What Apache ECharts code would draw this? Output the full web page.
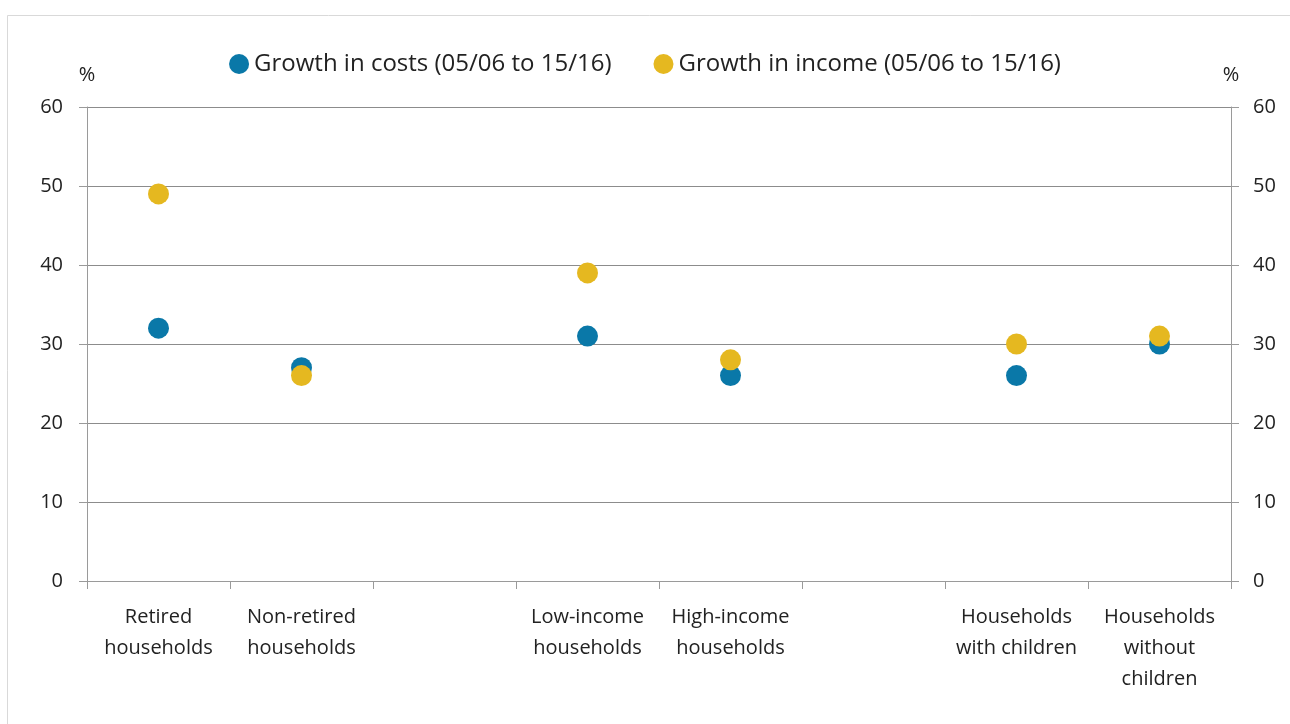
<!DOCTYPE html>
<html>
<head>
<meta charset="utf-8">
<script src="https://cdn.jsdelivr.net/npm/echarts@6/dist/echarts.min.js"></script>
<style>
html,body{margin:0;padding:0;background:#fff;}
#c{width:1290px;height:724px;}
</style>
</head>
<body>
<div id="c"></div>
<script>
var categories = ['Retired\nhouseholds', 'Non-retired\nhouseholds', '', 'Low-income\nhouseholds', 'High-income\nhouseholds', '', 'Households\nwith children', 'Households\nwithout\nchildren'];
var costs = [32, 27, null, 31, 26, null, 26, 30];
var income = [49, 26, null, 39, 28, null, 30, 31];
var yTicks = [0, 10, 20, 30, 40, 50, 60];
var seriesNames = ['Growth in costs (05/06 to 15/16)', 'Growth in income (05/06 to 15/16)'];

var FONT = '"Open Sans", "Liberation Sans", sans-serif';
var chart = echarts.init(document.getElementById('c'), null, {renderer: 'canvas'});
var yAxisBase = function (pos) {
  return {
    type: 'value', position: pos, min: yTicks[0], max: yTicks[yTicks.length - 1], interval: 10,
    name: '%', nameLocation: 'end', nameGap: 22,
    nameTextStyle: {color: '#222', fontSize: 20, fontFamily: FONT, align: 'center', verticalAlign: 'bottom'},
    axisLine: {show: true, lineStyle: {color: '#9a9a9a', width: 1}},
    axisTick: {show: true, length: 8, lineStyle: {color: '#9a9a9a'}},
    axisLabel: {color: '#222', fontSize: 20, fontFamily: FONT, margin: pos === 'left' ? 24 : 22},
    splitLine: {show: pos === 'left', lineStyle: {color: '#8c8c8c', width: 1}}
  };
};
chart.setOption({
  animation: false,
  backgroundColor: '#fff',
  graphic: [{type: 'rect', shape: {x: 7.5, y: 15.5, width: 1290, height: 720}, style: {fill: 'none', stroke: '#d9d9d9', lineWidth: 1}, silent: true}],
  legend: {
    top: 47, left: 'center', itemGap: 42, itemWidth: 20, itemHeight: 20,
    icon: 'circle',
    textStyle: {color: '#222', fontSize: 24, fontFamily: FONT, padding: [0, 0, 0, 0]},
    data: seriesNames
  },
  grid: {left: 87, right: 59, top: 107, bottom: 143, containLabel: false},
  xAxis: {
    type: 'category', data: categories, boundaryGap: true,
    axisLine: {show: true, lineStyle: {color: '#9a9a9a'}},
    axisTick: {show: true, length: 8, alignWithLabel: false, interval: 0, lineStyle: {color: '#9a9a9a'}},
    axisLabel: {interval: 0, color: '#222', fontSize: 20, fontFamily: FONT, lineHeight: 31, margin: 21}
  },
  yAxis: [yAxisBase('left'), yAxisBase('right')],
  series: [
    {name: seriesNames[0], type: 'scatter', data: costs, symbolSize: 21, itemStyle: {color: '#0A78A8', opacity: 1}, z: 2},
    {name: seriesNames[1], type: 'scatter', data: income, symbolSize: 21, itemStyle: {color: '#E5B820', opacity: 1}, z: 3}
  ]
});
</script>
</body>
</html>
